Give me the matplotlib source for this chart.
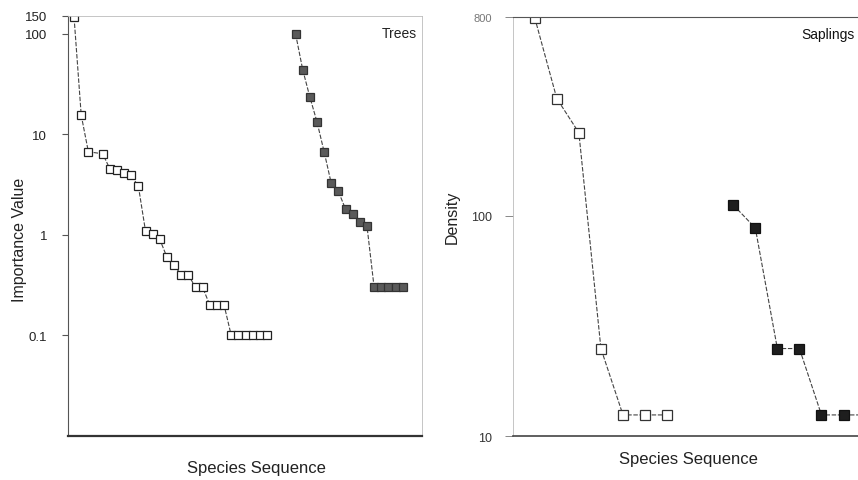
import matplotlib
matplotlib.use('Agg')
import matplotlib.pyplot as plt

plt.rcParams['font.family'] = ['Liberation Sans', 'DejaVu Sans']

# Trees - importance value by species rank
trees_open_rank = [1, 2, 3, 5, 6, 7, 8, 9, 10, 11, 12, 13, 14, 15, 16, 17, 18, 19,
                   20, 21, 22, 23, 24, 25, 26, 27, 28]
trees_open_val = [145, 15.5, 6.7, 6.4, 4.55, 4.4, 4.1, 3.9, 3.05, 1.09, 1.03, 0.9,
                  0.6, 0.5, 0.4, 0.4, 0.3, 0.3, 0.2, 0.2, 0.2, 0.1, 0.1, 0.1, 0.1,
                  0.1, 0.1]
trees_fill_rank = [32, 33, 34, 35, 36, 37, 38, 39, 40, 41, 42, 43, 44, 45, 46, 47]
trees_fill_val = [100, 44, 23.5, 13.3, 6.7, 3.25, 2.7, 1.8, 1.6, 1.35, 1.22,
                  0.3, 0.3, 0.3, 0.3, 0.3]

# Saplings - density by species rank
sap_open_rank = [1, 2, 3, 4, 5, 6, 7]
sap_open_val = [790, 340, 238, 25, 12.5, 12.5, 12.5]
sap_fill_rank = [10, 11, 12, 13, 14, 15, 16]
sap_fill_val = [112, 88, 25, 25, 12.5, 12.5, 12.5]

left_ticks = [0.1, 1, 10, 100, 150]
left_ticklabels = ['0.1', '1', '10', '100', '150']
right_ticks = [10, 100, 800]
right_ticklabels = ['10', '100', '800']

fig = plt.figure(figsize=(8.58, 4.81), dpi=100)
ax1 = fig.add_axes([68/858, 44/481, 354/858, 420/481])
ax2 = fig.add_axes([512.7/858, 43.7/481, 357.3/858, 419.7/481])

line_kw = dict(color='#444444', lw=0.8, linestyle=(0, (4, 1.5)))

# left panel (Trees)
ax1.plot(trees_open_rank, trees_open_val, marker='s', ms=6.4, mfc='white',
         mec='#222222', mew=0.9, **line_kw)
ax1.plot(trees_fill_rank, trees_fill_val, marker='s', ms=6.2, mfc='#5a5a5a',
         mec='#333333', mew=0.9, **line_kw)
ax1.set_yscale('log')
ax1.set_ylim(0.01, 150)
ax1.set_xlim(0.15, 49.7)
ax1.set_yticks(left_ticks)
ax1.set_yticklabels(left_ticklabels)
ax1.minorticks_off()
ax1.set_xticks([])
ax1.tick_params(axis='y', length=4, width=0.8, color='#555555', pad=11,
                labelsize=9.5, labelcolor='#222222')
ax1.text(0.985, 0.975, 'Trees', transform=ax1.transAxes, ha='right', va='top',
         fontsize=10, color='#222222')
ax1.text(-0.136, 0.469, 'Importance Value', transform=ax1.transAxes,
         rotation=90, ha='center', va='center', fontsize=11.5, color='#222222')
ax1.text(0.531, -0.074, 'Species Sequence', transform=ax1.transAxes,
         ha='center', va='center', fontsize=12, color='#222222')
ax1.spines['left'].set_color('#555555')
ax1.spines['left'].set_linewidth(0.8)
ax1.spines['bottom'].set_color('#333333')
ax1.spines['bottom'].set_linewidth(1.6)
for s in ['top', 'right']:
    ax1.spines[s].set_color('#bbbbbb')
    ax1.spines[s].set_linewidth(0.6)

# right panel (Saplings)
ax2.plot(sap_open_rank, sap_open_val, marker='s', ms=7, mfc='white',
         mec='#333333', mew=0.9, **line_kw)
ax2.plot(sap_fill_rank, sap_fill_val, marker='s', ms=7, mfc='#1e1e1e',
         mec='#111111', mew=0.9, **line_kw)
ax2.set_yscale('log')
ax2.set_ylim(10, 800)
ax2.set_xlim(0, 16.2)
ax2.set_yticks(right_ticks)
ax2.set_yticklabels(right_ticklabels)
ax2.minorticks_off()
ax2.set_xticks([])
ax2.tick_params(axis='y', length=6, width=0.7, color='#888888', pad=9,
                labelsize=9, labelcolor='#333333')
ax2.get_yticklabels()[2].set_color('#777777')
ax2.get_yticklabels()[2].set_fontsize(8)
ax2.text(0.956, 0.975, 'Saplings', transform=ax2.transAxes, ha='right', va='top',
         fontsize=10, color='#111111')
ax2.text(-0.17, 0.523, 'Density', transform=ax2.transAxes,
         rotation=90, ha='center', va='center', fontsize=11.5, color='#222222')
ax2.text(0.493, -0.052, 'Species Sequence', transform=ax2.transAxes,
         ha='center', va='center', fontsize=12, color='#222222')
ax2.spines['left'].set_color('#bbbbbb')
ax2.spines['left'].set_linewidth(0.6)
ax2.spines['top'].set_color('#555555')
ax2.spines['top'].set_linewidth(0.8)
ax2.spines['bottom'].set_color('#444444')
ax2.spines['bottom'].set_linewidth(1.2)
ax2.spines['right'].set_visible(False)

fig.savefig('out.png', dpi=100)
